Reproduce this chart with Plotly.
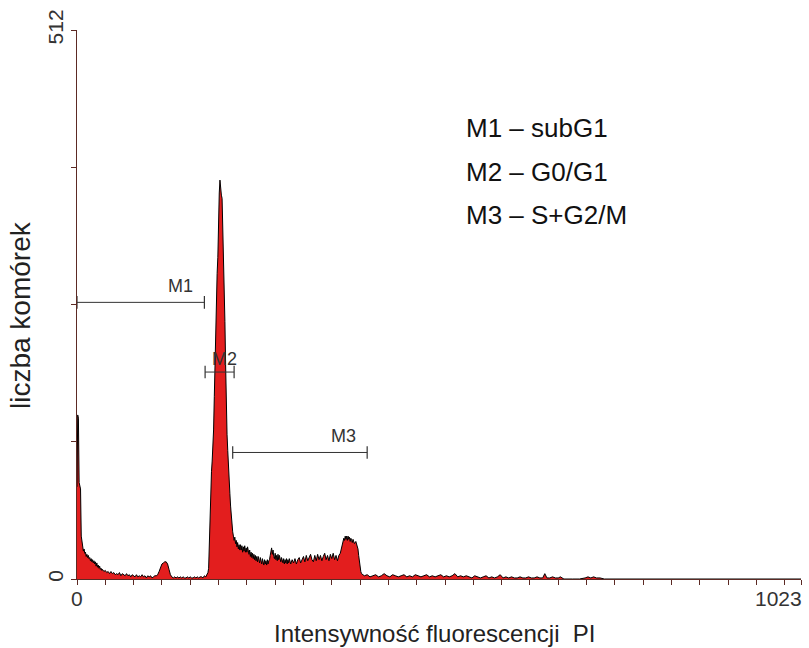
import plotly.graph_objects as go

# DNA content histogram (PI fluorescence channel, cell count) split by region
debris = [
    (0, 86), (1, 153), (2, 150), (3, 90), (4, 86), (5, 84), (6, 40), (7, 33),
    (8, 30), (9, 26), (10, 28), (11, 24), (12, 25), (13, 21), (14, 23), (15, 20), (16, 22),
    (17, 19), (18, 20), (19, 17), (20, 19), (21, 16), (22, 18), (23, 15), (24, 17), (25, 14),
    (26, 16), (27, 12), (28, 15), (29, 11), (30, 13), (31, 10), (32, 12), (33, 9), (34, 10),
    (35, 8), (36, 9), (38, 7), (40, 8), (42, 6), (44, 7), (46, 5), (48, 7), (50, 5), (52, 6),
    (54, 4), (56, 5), (58, 4), (60, 6), (62, 3), (64, 5), (66, 4), (68, 3), (70, 5), (72, 3),
    (74, 4), (76, 2), (78, 4), (80, 3), (82, 2), (84, 4), (86, 2), (88, 3), (90, 2), (92, 4),
    (94, 2), (96, 3), (98, 1), (100, 3), (102, 2), (104, 3), (106, 1), (108, 2), (110, 3), (112, 3),
]
subg1_bump = [
    (114, 4), (116, 7), (118, 11), (120, 14), (122, 15), (124, 16), (126, 16), (128, 14),
    (130, 9), (132, 4), (134, 2), (136, 1), (138, 2), (140, 1), (142, 2), (144, 1), (146, 2),
    (148, 1), (150, 2), (152, 1), (154, 1), (156, 2), (158, 1), (160, 2), (162, 1), (164, 1),
    (166, 2), (168, 1), (170, 2), (172, 1), (174, 2), (176, 2), (178, 1), (180, 3), (182, 2), (183, 3),
]
g1_peak = [
    (184, 4), (185, 6), (186, 10), (187, 40), (188, 71), (189, 85), (190, 100), (191, 110),
    (192, 125), (193, 139), (194, 170), (195, 205), (196, 235), (197, 260), (198, 285),
    (199, 300), (200, 356), (201, 360), (202, 372), (203, 362), (204, 358), (205, 355),
    (206, 330), (207, 300), (208, 268), (209, 240), (210, 200), (211, 150), (212, 135),
    (213, 120), (214, 102), (215, 90), (216, 80), (217, 68), (218, 58), (219, 50),
]
s_phase = [
    (220, 44), (221, 40), (222, 36), (223, 39), (224, 33), (225, 36), (226, 30), (227, 34),
    (228, 28), (229, 32), (230, 27), (231, 32), (232, 27), (233, 31), (234, 25), (235, 30),
    (236, 26), (237, 31), (238, 25), (239, 29), (240, 25), (241, 30), (242, 26), (243, 23),
    (244, 27), (245, 21), (246, 25), (247, 20), (248, 24), (249, 19), (250, 23), (251, 18),
    (252, 22), (253, 17), (254, 21), (255, 16), (256, 21), (257, 17), (258, 15), (259, 20),
    (260, 16), (261, 14), (262, 19), (263, 15), (264, 13), (265, 18), (266, 14), (267, 17),
    (268, 13), (269, 18), (270, 14), (271, 17), (272, 18), (273, 22), (274, 26), (275, 29),
    (276, 23), (277, 27), (278, 21), (279, 19), (280, 24), (281, 18), (282, 22), (283, 17),
    (284, 23), (285, 18), (286, 22), (287, 19), (288, 16), (289, 20), (290, 16), (291, 15),
    (292, 19), (293, 14), (294, 18), (295, 15), (296, 19), (297, 14), (298, 18), (299, 15),
    (300, 19), (302, 14), (304, 18), (306, 15), (308, 19), (310, 14), (312, 18), (314, 20),
    (316, 15), (318, 19), (320, 21), (322, 16), (324, 22), (326, 17), (328, 21), (330, 23),
    (332, 18), (334, 16), (336, 22), (338, 17), (340, 23), (342, 18), (344, 22), (346, 17),
    (348, 21), (350, 24), (352, 18), (354, 22), (356, 17), (358, 23), (360, 19), (362, 24),
    (364, 18), (366, 22), (368, 17), (370, 22), (372, 24),
]
g2_peak = [
    (374, 30), (376, 36), (377, 38), (378, 36), (379, 40), (380, 37), (381, 40), (382, 36),
    (383, 40), (384, 37), (385, 39), (386, 35), (387, 38), (388, 36), (389, 34), (390, 37),
    (392, 33), (394, 35), (396, 31), (397, 28), (398, 22), (399, 16), (400, 10), (401, 7),
    (402, 5), (404, 4),
]
tail = [
    (406, 3), (410, 4), (414, 2), (418, 3), (422, 4), (426, 2), (430, 3), (434, 5), (438, 3),
    (442, 2), (446, 4), (450, 3), (454, 2), (458, 3), (462, 4), (466, 2), (470, 3), (474, 2),
    (478, 4), (482, 3), (486, 2), (490, 3), (494, 4), (498, 2), (502, 3), (506, 2), (510, 3),
    (514, 4), (518, 2), (522, 3), (526, 2), (530, 3), (534, 5), (538, 2), (542, 3), (546, 2),
    (550, 3), (554, 2), (558, 1), (562, 3), (566, 2), (570, 1), (574, 2), (578, 3), (582, 1),
    (586, 2), (590, 1), (594, 2), (598, 4), (602, 1), (606, 2), (610, 1), (614, 2), (618, 1),
    (622, 1), (626, 2), (630, 1), (634, 1), (638, 2), (642, 1), (646, 1), (650, 2), (654, 1),
    (658, 1), (661, 5), (664, 1), (668, 1), (672, 2), (676, 1), (680, 1), (683, 2), (688, 0),
    (700, 0), (710, 0), (718, 1), (722, 2), (726, 1), (730, 2), (734, 1), (739, 1), (745, 0),
    (1023, 0),
]

# Analysis gates: name, start channel, end channel, drawn level
gate_names = ["M1", "M2", "M3"]
gate_start = [0, 181, 220]
gate_end = [180, 222, 410]
gate_level = [258, 193, 118]
gate_label_x = [146, 208, 376]

legend_lines = ["M1 – subG1", "M2 – G0/G1", "M3 – S+G2/M"]

x_tick_labels = ["0", "1023"]
y_tick_labels = ["0", "512"]

FONT = "Liberation Sans, Arial, sans-serif"
AXIS_COLOR = "#5c2a24"

histogram = debris + subg1_bump + g1_peak + s_phase + g2_peak + tail
channels = [c for c, _ in histogram]
counts = [n for _, n in histogram]

fig = go.Figure()

fig.add_trace(go.Scatter(
    x=channels, y=counts, mode="lines", fill="tozeroy",
    fillcolor="#e31e1e", line=dict(color="black", width=1),
    hoverinfo="x+y", showlegend=False,
))

for name, x0, x1, lvl in zip(gate_names, gate_start, gate_end, gate_level):
    fig.add_trace(go.Scatter(
        x=[x0, x1], y=[lvl, lvl], mode="lines+markers",
        line=dict(color="#333333", width=1),
        marker=dict(symbol="line-ns", size=9, line=dict(color="#333333", width=1.2)),
        name=name, showlegend=False, hoverinfo="name",
    ))

annotations = []
for name, lx, lvl in zip(gate_names, gate_label_x, gate_level):
    annotations.append(dict(
        x=lx, y=lvl, xref="x", yref="y", text=name, showarrow=False,
        yshift=16 if name != "M2" else 13,
        font=dict(family=FONT, size=18, color="#333333"),
    ))

for i, line in enumerate(legend_lines):
    annotations.append(dict(
        x=0.535, y=0.8215 - i * 0.0795, xref="paper", yref="paper",
        xanchor="left", yanchor="middle", text=line, showarrow=False,
        font=dict(family=FONT, size=26, color="#111111"),
    ))

# channel labels under the x axis
annotations.append(dict(x=0, y=0, xref="x", yref="y", text=x_tick_labels[0],
                        showarrow=False, yanchor="top", yshift=-6,
                        font=dict(family=FONT, size=21, color="#333333")))
annotations.append(dict(x=1023, y=0, xref="x", yref="y", text=x_tick_labels[1],
                        showarrow=False, yanchor="top", xanchor="right", xshift=3, yshift=-6,
                        font=dict(family=FONT, size=21, color="#333333")))

# axis titles (placed in pixels, converted to paper coordinates below)
annotations.append(dict(x=434, y=633, xref="paper", yref="paper",
                        xanchor="center", yanchor="middle",
                        text="Intensywność fluorescencji\u00a0\u00a0PI",
                        showarrow=False, font=dict(family=FONT, size=24, color="#222222")))
annotations.append(dict(x=20, y=315, xref="paper", yref="paper", text="liczba komórek",
                        xanchor="center", yanchor="middle",
                        textangle=-90, showarrow=False,
                        font=dict(family=FONT, size=28, color="#222222")))

W, H = 809, 648
L, R, T, B = 77, 8, 30, 69
for a in annotations[-2:]:
    a["x"] = (a["x"] - L) / (W - L - R)
    a["y"] = (H - B - a["y"]) / (H - T - B)

fig.update_layout(
    width=W, height=H,
    margin=dict(l=L, r=R, t=T, b=B),
    paper_bgcolor="white", plot_bgcolor="white",
    annotations=annotations,
    xaxis=dict(
        range=[0, 1023], showgrid=False, zeroline=False,
        showline=True, linecolor=AXIS_COLOR, linewidth=1,
        tickvals=[0, 1023], ticktext=["", ""], ticks="outside", ticklen=5,
        tickcolor=AXIS_COLOR,
        minor=dict(dtick=40, tick0=0, ticks="outside", ticklen=5, tickcolor=AXIS_COLOR),
        fixedrange=True,
    ),
    yaxis=dict(
        range=[0, 512], showgrid=False, zeroline=False,
        showline=True, linecolor=AXIS_COLOR, linewidth=1,
        tickvals=[0, 512], ticktext=y_tick_labels, ticks="outside", ticklen=5,
        tickcolor=AXIS_COLOR, tickangle=-90,
        tickfont=dict(family=FONT, size=21, color="#333333"),
        minor=dict(dtick=128, tick0=0, ticks="outside", ticklen=5, tickcolor=AXIS_COLOR),
        fixedrange=True,
    ),
)

fig.write_html("out.html")
